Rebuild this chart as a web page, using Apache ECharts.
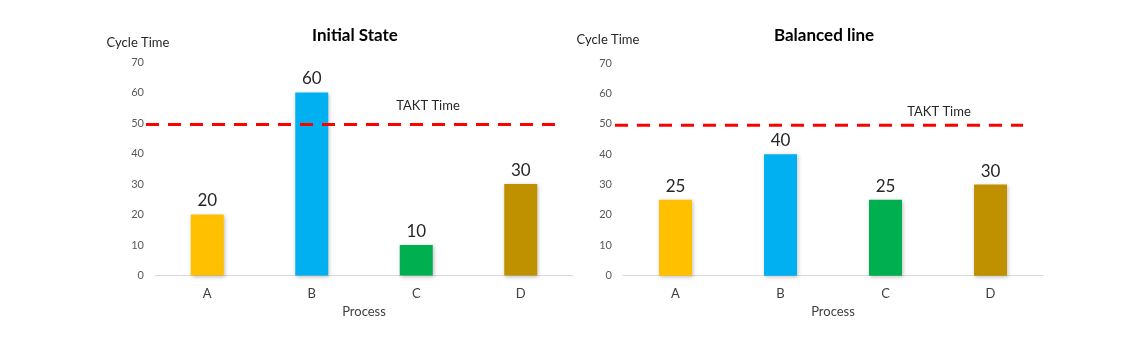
<!DOCTYPE html>
<html><head><meta charset="utf-8">
<script src="https://cdn.jsdelivr.net/npm/echarts@6/dist/echarts.min.js"></script>
<style>html,body{margin:0;padding:0;background:#fff}#c{width:1143px;height:337px}</style>
</head><body><div id="c"></div>
<script>
const categories = ['A', 'B', 'C', 'D'];
const initialValues = [20, 60, 10, 30];
const balancedValues = [25, 40, 25, 30];
const barColors = ['#FFC000', '#00B0F0', '#00B050', '#BF9000'];
const taktTime = 49.5;
const yTicks = { min: 0, max: 70, interval: 10 };
const titles = ['Initial State', 'Balanced line'];

const FONT = 'Lato, "Open Sans", sans-serif';
const chart = echarts.init(document.getElementById('c'));

const barGrids = [
  { left: 155, width: 418, top: 62, bottom: 61.5 },
  { left: 623, width: 420, top: 63, bottom: 61.3 }
];
// grids that span only the horizontal extent of the takt lines
const taktGrids = [
  { left: 146, width: 409, top: 62, bottom: 61.5 },
  { left: 615, width: 408, top: 63, bottom: 61.3 }
];
const datasets = [initialValues, balancedValues];

const xAxes = [], yAxes = [], series = [];
barGrids.forEach((g, i) => {
  xAxes.push({
    type: 'category', gridIndex: i, data: categories,
    axisLine: { lineStyle: { color: '#D9D9D9', width: 1 } },
    axisTick: { show: false },
    axisLabel: { fontFamily: FONT, fontSize: 13, color: '#404040', margin: 12 },
    name: 'Process', nameLocation: 'middle', nameGap: 27,
    nameTextStyle: { fontFamily: FONT, fontSize: 13, color: '#404040' }
  });
  yAxes.push({
    type: 'value', gridIndex: i, min: yTicks.min, max: yTicks.max, interval: yTicks.interval,
    axisLine: { show: false }, axisTick: { show: false }, splitLine: { show: false },
    axisLabel: { fontFamily: FONT, fontSize: 11, color: '#595959', margin: 11 }
  });
  series.push({
    type: 'bar', xAxisIndex: i, yAxisIndex: i, barWidth: 33,
    data: datasets[i].map((v, k) => ({ value: v, itemStyle: { color: barColors[k] } })),
    itemStyle: { shadowBlur: 4, shadowColor: 'rgba(0,0,0,0.25)', shadowOffsetX: 1, shadowOffsetY: 1 },
    label: { show: true, position: 'top', distance: 5, fontFamily: FONT, fontSize: 17, color: '#262626' }
  });
});
taktGrids.forEach((g, i) => {
  xAxes.push({ type: 'value', gridIndex: 2 + i, min: 0, max: 1, show: false });
  yAxes.push({ type: 'value', gridIndex: 2 + i, min: yTicks.min, max: yTicks.max, show: false });
  series.push({
    type: 'line', xAxisIndex: 2 + i, yAxisIndex: 2 + i, symbol: 'none', silent: true,
    data: [[0, taktTime], [1, taktTime]],
    lineStyle: { color: '#FF0000', width: 3, type: [13, 9] },
    z: 5
  });
});

const txt = (text, x, y, size, weight, fill) => ({
  type: 'text', x, y,
  style: { text, font: `${weight} ${size}px ${FONT}`, fill, align: 'center', verticalAlign: 'middle' }
});

chart.setOption({
  animation: false,
  grid: barGrids.concat(taktGrids),
  xAxis: xAxes,
  yAxis: yAxes,
  series,
  graphic: [
    txt(titles[0], 355, 36, 17, 'bold', '#000'),
    txt(titles[1], 824, 36, 17, 'bold', '#000'),
    txt('Cycle Time', 138, 43, 13, 'normal', '#262626'),
    txt('Cycle Time', 608, 40, 13, 'normal', '#262626'),
    txt('TAKT Time', 428, 106, 13, 'normal', '#262626'),
    txt('TAKT Time', 939, 112, 13, 'normal', '#262626')
  ]
});
</script></body></html>
